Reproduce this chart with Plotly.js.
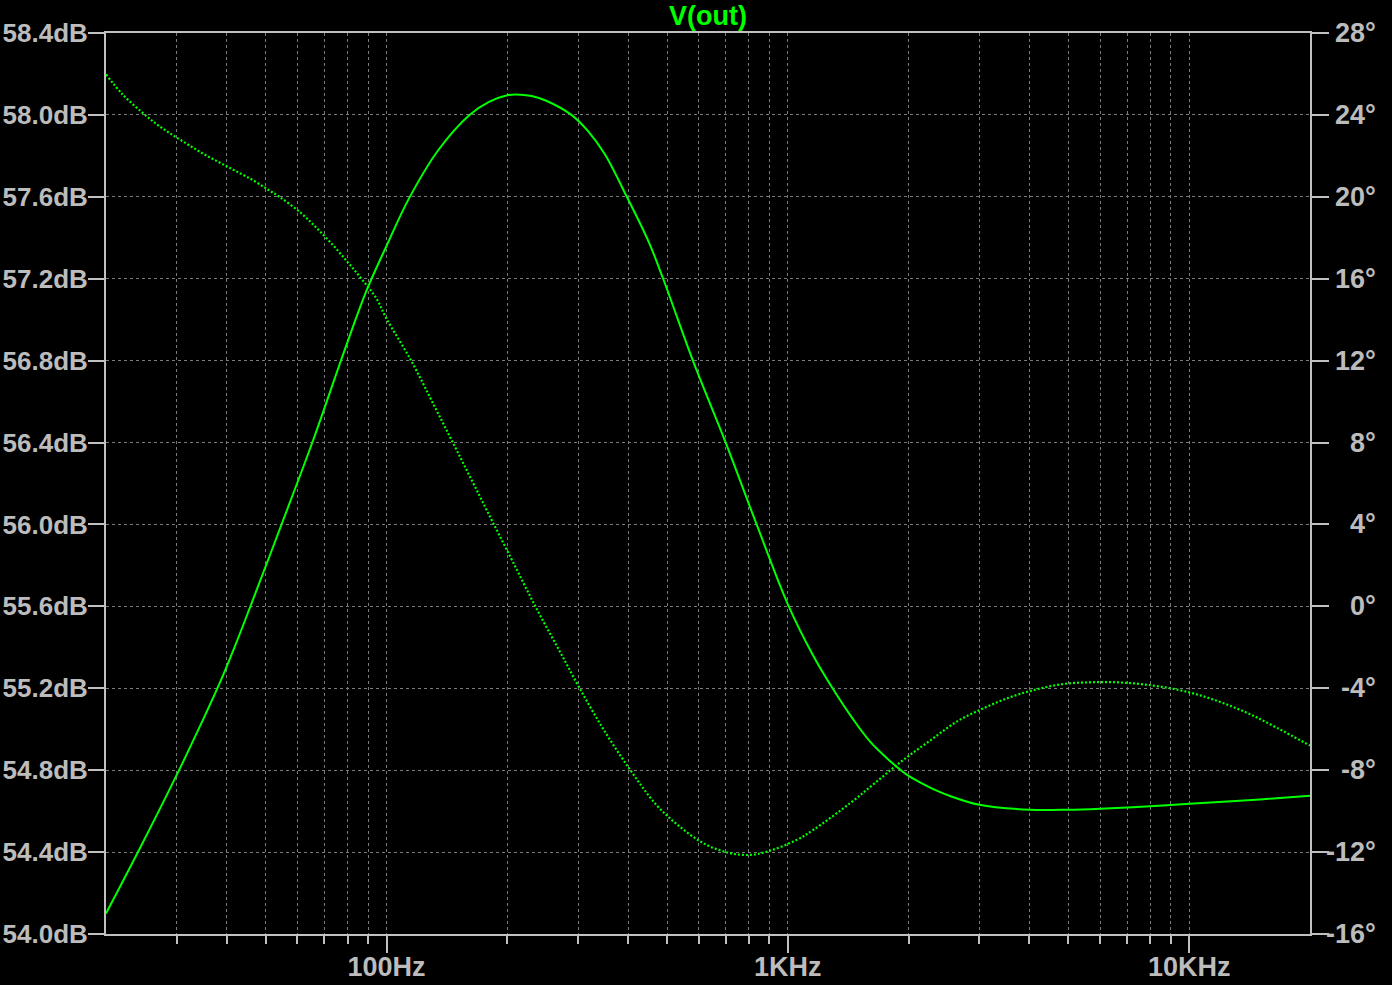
<!DOCTYPE html>
<html>
<head>
<meta charset="utf-8">
<script src="https://cdn.plot.ly/plotly-3.0.1.min.js"></script>
<style>
  html, body { margin: 0; padding: 0; background: #000; }
  #chart { width: 1392px; height: 985px; }
</style>
</head>
<body>
<div id="chart"></div>
<script>
// Magnitude of V(out) (solid, left axis, dB)
const magFreq = [20, 24.1, 30.5, 34.2, 38.1, 41.8, 46.0, 55.0, 65.6, 78.6, 89.3, 100, 113.6, 134.8, 161, 180, 200, 210.6, 230, 250, 288.8, 317, 350, 397, 450, 489, 580, 700, 836, 1000, 1156, 1297, 1455, 1601, 1763, 1867, 2000, 2134, 2349, 2535, 3000, 4000, 5000, 6000, 8000, 10000, 15000, 20000];
const magDb   = [54.10, 54.405, 54.805, 55.01, 55.21, 55.40, 55.61, 56.01, 56.41, 56.85, 57.145, 57.36, 57.59, 57.83, 58.00, 58.064, 58.096, 58.10, 58.092, 58.069, 58.00, 57.923, 57.808, 57.60, 57.38, 57.20, 56.80, 56.40, 56.00, 55.61, 55.36, 55.195, 55.048, 54.941, 54.86, 54.817, 54.772, 54.741, 54.70, 54.674, 54.631, 54.607, 54.607, 54.612, 54.624, 54.636, 54.657, 54.675];

// Phase of V(out) (dotted, right axis, degrees)
const phaseFreq = [20, 22.0, 24.45, 26.57, 28.82, 31.66, 34.83, 38.33, 42.1, 46.4, 50.58, 54.1, 61.27, 66.8, 73.47, 80.11, 86.6, 94.25, 100, 115.2, 129.9, 146.3, 164.6, 185.2, 208.6, 234.9, 266.8, 302.9, 349.6, 405.2, 470.6, 532.7, 615, 710, 800.9, 893, 1051, 1156, 1427, 1664, 1939, 2260, 2634, 3069, 3577, 4171, 4859, 5664, 6601, 7691, 8965, 10452, 12175, 14193, 16544, 20000];
const phaseDeg  = [25.98, 25.00, 24.17, 23.59, 23.11, 22.61, 22.12, 21.68, 21.26, 20.82, 20.36, 20.00, 19.20, 18.50, 17.65, 16.80, 16.00, 15.05, 14.05, 12.00, 10.00, 8.00, 6.00, 4.00, 2.00, 0.00, -2.00, -4.00, -6.10, -8.00, -9.70, -10.69, -11.56, -12.03, -12.14, -11.96, -11.41, -10.92, -9.62, -8.56, -7.50, -6.56, -5.63, -4.98, -4.44, -4.05, -3.79, -3.71, -3.71, -3.81, -4.00, -4.30, -4.73, -5.27, -5.93, -6.80];

// Axis ticks
const xMajorVals = [100, 1000, 10000];
const xMajorText = ["100Hz", "1KHz", "10KHz"];
const xMinorVals = [30, 40, 50, 60, 70, 80, 90, 200, 300, 400, 500, 600, 700, 800, 900, 2000, 3000, 4000, 5000, 6000, 7000, 8000, 9000];
const phaseTickVals = [-16, -12, -8, -4, 0, 4, 8, 12, 16, 20, 24, 28];
const phaseTickText = ["-16°", "-12°", "-8°", "-4°", "0°", "4°", "8°", "12°", "16°", "20°", "24°", "28°"];
const traceName = "V(out)";

const green = "#00ff00";
const axisCol = "#c0c0c0";
const gridCol = "#7a7a7a";
const textCol = "#bcbcbc";
const fontFam = "'Liberation Sans', Arial, sans-serif";
const labelFont = { family: fontFam, size: 27, color: textCol, weight: "bold" };
const leftFont = { family: fontFam, size: 26, color: textCol, weight: "bold" };

const traces = [
  {
    x: magFreq, y: magDb, type: "scatter", mode: "lines", name: traceName + " mag",
    line: { color: green, width: 2, shape: "spline", smoothing: 1 },
    xaxis: "x", yaxis: "y", hoverinfo: "skip"
  },
  {
    x: phaseFreq, y: phaseDeg, type: "scatter", mode: "lines", name: traceName + " phase",
    line: { color: green, width: 2.2, dash: "2px,2px", shape: "spline", smoothing: 1 },
    xaxis: "x", yaxis: "y2", hoverinfo: "skip"
  }
];

const annotations = phaseTickVals.map((v, i) => ({
  x: 1 + (1378 - 1310) / 1204, xref: "paper", xanchor: "right",
  y: v, yref: "y2", yanchor: "middle",
  text: phaseTickText[i], showarrow: false, font: labelFont
}));

const layout = {
  width: 1392, height: 985,
  paper_bgcolor: "#000", plot_bgcolor: "#000",
  margin: { l: 106, r: 82, t: 33, b: 51, pad: 0 },
  showlegend: false,
  title: {
    text: "<b>" + traceName + "</b>",
    font: { family: fontFam, size: 27, color: green },
    x: 0.5, xref: "paper", xanchor: "center",
    y: 1 - 16 / 985, yref: "container", yanchor: "middle"
  },
  xaxis: {
    type: "log",
    range: [Math.log10(20), Math.log10(20000)],
    tickmode: "array", tickvals: xMajorVals, ticktext: xMajorText,
    ticks: "outside", ticklen: 17, tickwidth: 2, tickcolor: axisCol,
    ticklabelstandoff: -9,
    showline: true, linecolor: axisCol, linewidth: 2, mirror: true,
    showgrid: true, gridcolor: gridCol, gridwidth: 1, griddash: "3px,3px",
    zeroline: false,
    tickfont: labelFont,
    minor: {
      tickmode: "array", tickvals: xMinorVals,
      ticks: "outside", ticklen: 8, tickwidth: 2, tickcolor: axisCol,
      showgrid: true, gridcolor: gridCol, gridwidth: 1, griddash: "3px,3px"
    }
  },
  yaxis: {
    range: [54.0, 58.4], tickmode: "linear", tick0: 54.0, dtick: 0.4,
    tickformat: ".1f", ticksuffix: "dB",
    ticks: "outside", ticklen: 16, tickwidth: 2, tickcolor: axisCol,
    ticklabelstandoff: -5,
    showline: true, linecolor: axisCol, linewidth: 2,
    showgrid: true, gridcolor: gridCol, gridwidth: 1, griddash: "3px,3px",
    zeroline: false,
    tickfont: leftFont
  },
  yaxis2: {
    overlaying: "y", side: "right",
    range: [-16, 28], tickmode: "array", tickvals: phaseTickVals,
    showticklabels: false,
    ticks: "outside", ticklen: 17, tickwidth: 2, tickcolor: axisCol,
    showline: true, linecolor: axisCol, linewidth: 2,
    showgrid: false, zeroline: false
  },
  annotations: annotations
};

Plotly.newPlot("chart", traces, layout, { staticPlot: true, displayModeBar: false });
</script>
</body>
</html>
